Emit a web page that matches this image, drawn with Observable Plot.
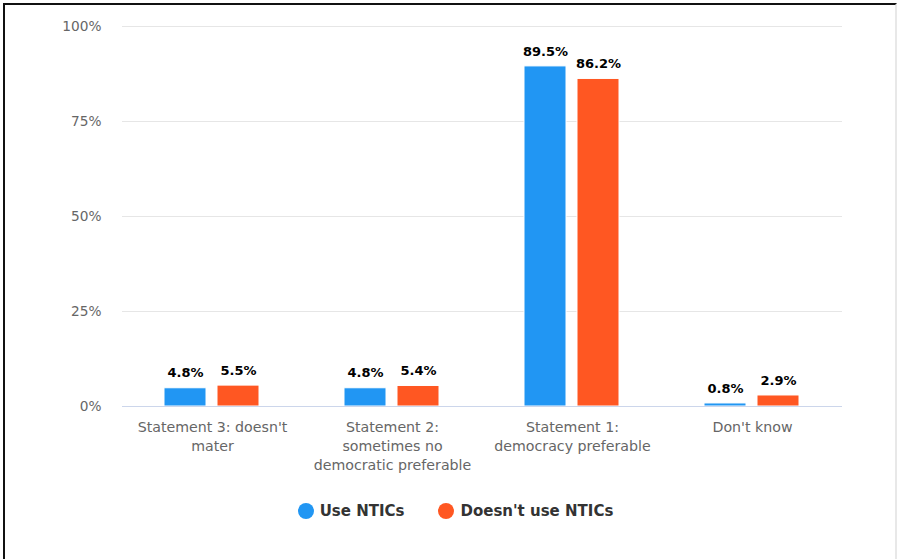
<!DOCTYPE html>
<html>
<head>
<meta charset="utf-8">
<script src="https://cdn.jsdelivr.net/npm/d3@7"></script>
<script src="https://cdn.jsdelivr.net/npm/@observablehq/plot@0.6"></script>
<style>
  html, body { margin: 0; padding: 0; background: #fff; }
  body { width: 897px; height: 559px; position: relative; overflow: hidden; font-family: "DejaVu Sans", Verdana, sans-serif; }
  #frame { position: absolute; left: 3px; top: 3px; width: 890px; height: 600px;
           border-left: 2px solid #111; border-top: 2px solid #111; border-right: 2px solid #e8e8e8; pointer-events: none; }
  #chart { position: absolute; left: 0; top: 0; }
  #legend { position: absolute; left: 0; top: 500px; width: 897px; display: flex; justify-content: center;
            padding-left: 14px; box-sizing: border-box; gap: 34px; font-weight: bold; font-size: 15px; color: #333; }
  .item { display: flex; align-items: center; gap: 6px; height: 22px; }
  .dot { width: 16px; height: 16px; border-radius: 50%; display: inline-block; }
</style>
</head>
<body>
<div id="chart"></div>
<div id="legend"></div>
<div id="frame"></div>
<script>
const categories = ["Statement 3: doesn't mater", "Statement 2: sometimes no democratic preferable", "Statement 1: democracy preferable", "Don't know"];
const categoryLabels = ["Statement 3: doesn't\nmater", "Statement 2:\nsometimes no\ndemocratic preferable", "Statement 1:\ndemocracy preferable", "Don't know"];
const series = ["Use NTICs", "Doesn't use NTICs"];
const useNTICs = [4.8, 4.8, 89.5, 0.8];
const noNTICs = [5.5, 5.4, 86.2, 2.9];
const colors = ["#2196f3", "#ff5722"];
const yTicks = [0, 25, 50, 75, 100];

const rows = [];
categories.forEach((c, i) => {
  rows.push({category: c, series: series[0], value: useNTICs[i]});
  rows.push({category: c, series: series[1], value: noNTICs[i]});
});
const labelOf = new Map(categories.map((c, i) => [c, categoryLabels[i]]));

const chart = Plot.plot({
  width: 897,
  height: 480,
  marginLeft: 120,
  marginRight: 54,
  marginTop: 26,
  marginBottom: 74,
  style: {fontFamily: "'DejaVu Sans', Verdana, sans-serif", fontSize: "13px", background: "transparent"},
  fx: {domain: categories, padding: 0, label: null},
  x: {domain: series, paddingInner: 0.2037, paddingOuter: 0.775, axis: null},
  y: {domain: [0, 100], ticks: yTicks, label: null},
  color: {domain: series, range: colors},
  marks: [
    Plot.gridY(yTicks.filter(d => d > 0), {stroke: "#e6e6e6", strokeOpacity: 1}),
    Plot.axisY(yTicks, {tickSize: 0, tickPadding: 21, fill: "#666", fontSize: 13.7, tickFormat: d => d + "%", label: null}),
    Plot.axisFx({anchor: "bottom", tickSize: 0, tickPadding: 12, fill: "#666", fontSize: 14.2, lineHeight: 1.34,
                 lineAnchor: "top", tickFormat: d => labelOf.get(d), label: null}),
    Plot.barY(rows, {fx: "category", x: "series", y: "value", fill: "series", stroke: "#fff", strokeWidth: 1}),
    Plot.ruleY([0], {stroke: "#ccd6eb"}),
    Plot.text(rows, {fx: "category", x: "series", y: "value", text: d => d.value.toFixed(1) + "%",
                     dy: -15, fontWeight: "bold", fontSize: 13, fill: "#000"})
  ]
});
document.getElementById("chart").appendChild(chart);

const legend = document.getElementById("legend");
series.forEach((s, i) => {
  const item = document.createElement("div");
  item.className = "item";
  const dot = document.createElement("span");
  dot.className = "dot";
  dot.style.background = colors[i];
  const t = document.createElement("span");
  t.textContent = s;
  item.appendChild(dot);
  item.appendChild(t);
  legend.appendChild(item);
});
</script>
</body>
</html>
